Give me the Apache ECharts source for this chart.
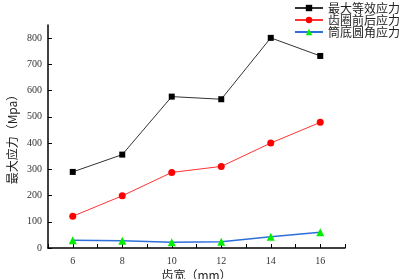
<!DOCTYPE html>
<html>
<head>
<meta charset="utf-8">
<script src="https://cdn.jsdelivr.net/npm/echarts@6/dist/echarts.min.js"></script>
<style>
  html, body { margin: 0; padding: 0; background: #fff; }
  #chart { width: 401px; height: 279px; }
</style>
</head>
<body>
<div id="chart"></div>
<script>
const widths = [6, 8, 10, 12, 14, 16]
const maxStress = [290, 356, 577, 567, 801, 732]
const ringStress = [121, 199, 288, 311, 400, 479]
const filletStress = [30, 28, 22, 24, 43, 60]
const seriesNames = ['最大等效应力', '齿圈前后应力', '筒底圆角应力']

const pairs = (ys) => widths.map((x, i) => [x, ys[i]])

const chart = echarts.init(document.getElementById('chart'))
const axisText = {
  color: '#333',
  fontSize: 10,
  fontFamily: 'Liberation Serif',
}
const option = {
  animation: false,
  backgroundColor: '#fff',
  grid: {
    left: 48,
    right: 56,
    top: 25,
    bottom: 31,
    containLabel: false,
    outerBoundsMode: 'none',
  },
  legend: {
    right: 1,
    top: 2,
    padding: 0,
    orient: 'vertical',
    itemGap: 0,
    itemWidth: 28,
    itemHeight: 8,
    textStyle: {
      fontSize: 12,
      lineHeight: 12,
      color: '#222',
      fontFamily: 'Noto Sans CJK SC',
    },
    data: seriesNames,
  },
  xAxis: {
    type: 'value',
    min: 5,
    max: 17,
    interval: 1,
    name: '齿宽（mm）',
    nameLocation: 'middle',
    nameGap: 21,
    nameMoveOverlap: false,
    nameTextStyle: {
      fontSize: 12,
      color: '#222',
      fontFamily: 'Noto Sans CJK SC',
    },
    splitLine: { show: false },
    axisLine: { lineStyle: { color: '#000', width: 1.5 } },
    axisTick: {
      inside: true,
      length: 4,
      lineStyle: { color: '#000' },
      interval: (i, v) => v % 2 === 0 && v >= 6 && v <= 16,
    },
    axisLabel: Object.assign({}, axisText, {
      margin: 8,
      formatter: (v) => (v % 2 === 0 && v >= 6 && v <= 16 ? String(v) : ''),
    }),
  },
  yAxis: {
    type: 'value',
    min: 0,
    max: 850,
    interval: 100,
    name: '最大应力（Mpa）',
    nameLocation: 'middle',
    nameGap: 30,
    nameMoveOverlap: false,
    nameTextStyle: {
      fontSize: 12,
      color: '#222',
      fontFamily: 'Noto Sans CJK SC',
    },
    splitLine: { show: false },
    axisLine: { show: true, lineStyle: { color: '#000', width: 1.5 } },
    axisTick: { show: true, inside: true, length: 4, lineStyle: { color: '#000' } },
    axisLabel: Object.assign({}, axisText, {
      margin: 6,
      showMaxLabel: false,
    }),
  },
  series: [
    {
      name: seriesNames[0],
      type: 'line',
      symbol: 'rect',
      symbolSize: 6,
      lineStyle: { color: '#333', width: 1 },
      itemStyle: { color: '#000' },
      data: pairs(maxStress),
    },
    {
      name: seriesNames[1],
      type: 'line',
      symbol: 'circle',
      symbolSize: 7,
      lineStyle: { color: '#ff3333', width: 1 },
      itemStyle: { color: '#ff0000' },
      data: pairs(ringStress),
    },
    {
      name: seriesNames[2],
      type: 'line',
      symbol: 'triangle',
      symbolSize: 8,
      lineStyle: { color: '#2f6fdb', width: 1.5 },
      itemStyle: { color: '#00ee00' },
      data: pairs(filletStress),
    },
  ],
}
chart.setOption(option)
</script>
</body>
</html>
